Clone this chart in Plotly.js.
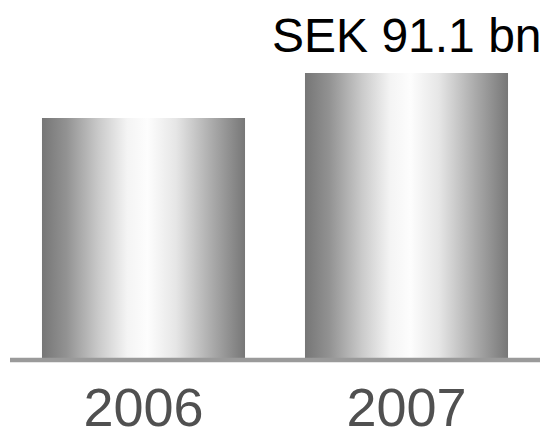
<!DOCTYPE html>
<html>
<head>
<meta charset="utf-8">
<script src="https://cdn.plot.ly/plotly-3.0.1.min.js"></script>
<style>html,body{margin:0;padding:0;background:#fff;}#chart{width:548px;height:431px;}</style>
</head>
<body>
<div id="chart"></div>
<script>
// Data
const years = ["2006", "2007"];
const sales = [76.7, 91.1];            // SEK bn
const valueLabels = ["", "SEK 91.1 bn"];

const barWidth = 0.772;
const gradient = [
  [0.0, "#767676"], [0.12, "#929292"], [0.28, "#cacaca"], [0.42, "#f4f4f4"],
  [0.52, "#fdfdfd"], [0.66, "#e6e6e6"], [0.84, "#aaaaaa"], [1.0, "#777777"]
];

const traces = years.map((yr, i) => {
  const x0 = i - barWidth / 2, x1 = i + barWidth / 2;
  return {
    type: "scatter", mode: "lines", name: yr,
    x: [x0, x1, x1, x0, x0],
    y: [0, 0, sales[i], sales[i], 0],
    fill: "toself",
    fillgradient: {type: "horizontal", colorscale: gradient},
    line: {width: 0, color: "rgba(0,0,0,0)"},
    hoverinfo: "skip", showlegend: false
  };
});

const annotations = valueLabels.map((t, i) => ({
  x: i, y: sales[i], xref: "x", yref: "y", text: t, showarrow: false,
  xanchor: "center", yanchor: "bottom", yshift: 9,
  font: {family: "Liberation Sans, Arial, sans-serif", size: 48, color: "#000"}
})).filter(a => a.text);

const layout = {
  width: 548, height: 431,
  margin: {l: 0, r: 0, t: 0, b: 60, pad: 0},
  paper_bgcolor: "#fff", plot_bgcolor: "#fff",
  showlegend: false,
  xaxis: {
    range: [-0.5456, 1.538], tickmode: "array",
    tickvals: years.map((_, i) => i), ticktext: years,
    showgrid: false, zeroline: false, showline: false, ticks: "",
    ticklabelstandoff: 0,
    tickfont: {family: "Liberation Sans, Arial, sans-serif", size: 54, color: "#505050"},
    fixedrange: true
  },
  yaxis: {
    range: [-4.156, 114.45], visible: false, showgrid: false, zeroline: false, fixedrange: true
  },
  shapes: [{
    type: "line", xref: "paper", yref: "y",
    x0: 10 / 548, x1: 540 / 548, y0: -0.64, y1: -0.64,
    line: {color: "#9a9a9a", width: 4.5}
  }],
  annotations: annotations
};

Plotly.newPlot("chart", traces, layout, {displayModeBar: false, staticPlot: true});
</script>
</body>
</html>
